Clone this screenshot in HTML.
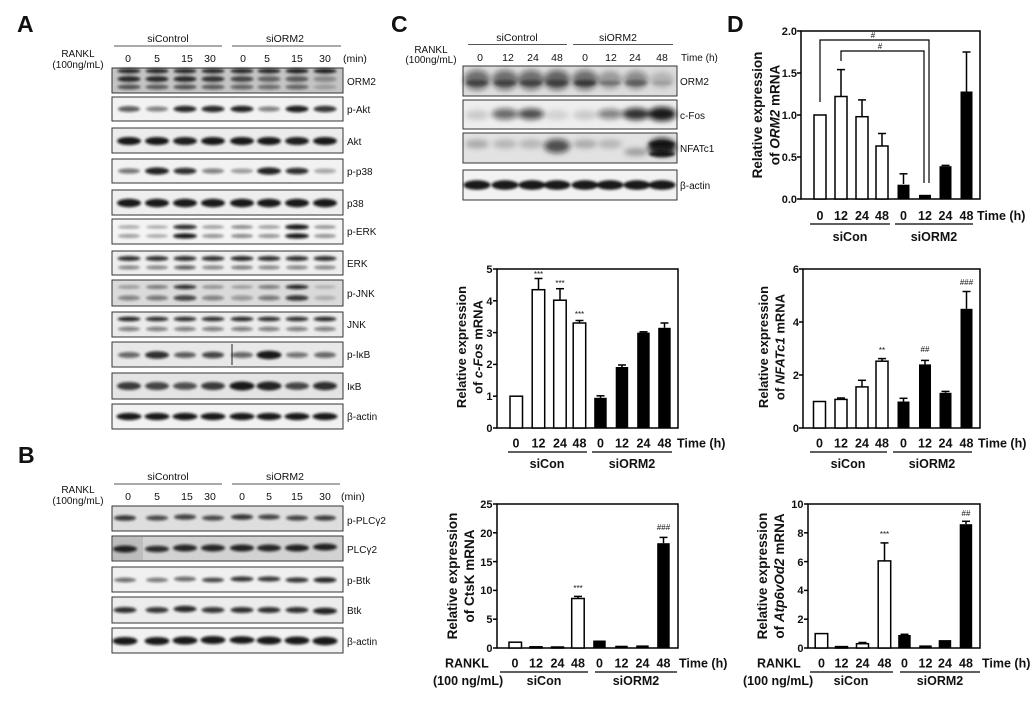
<!DOCTYPE html>
<html><head><meta charset="utf-8"><style>
html,body{margin:0;padding:0;background:#fff;}
svg{display:block;}
text{font-family:"Liberation Sans",Arial,sans-serif;fill:#111;}
.bl{font-size:10px;}
.hd{font-size:10.5px;}
.tk{font-size:11px;font-weight:bold;}
.xl{font-size:12.5px;font-weight:bold;}
.yl{font-size:13.5px;font-weight:bold;}
.sg{font-size:8px;}
</style></head><body>
<svg width="1035" height="701" viewBox="0 0 1035 701" xmlns="http://www.w3.org/2000/svg">
<defs>
<filter id="bl" x="-30%" y="-150%" width="160%" height="400%"><feGaussianBlur stdDeviation="1.2"/></filter>
<filter id="bl3" x="-30%" y="-100%" width="160%" height="300%"><feGaussianBlur stdDeviation="2.6"/></filter>
</defs>

<!-- Panel letters -->
<text x="17" y="32" font-size="23" font-weight="bold">A</text>
<text x="18" y="463" font-size="23" font-weight="bold">B</text>
<text x="391" y="32" font-size="23" font-weight="bold">C</text>
<text x="727" y="32" font-size="23" font-weight="bold">D</text>

<!-- ===== Panel A header ===== -->
<text class="hd" x="168" y="42" text-anchor="middle">siControl</text>
<text class="hd" x="285" y="42" text-anchor="middle">siORM2</text>
<line x1="114" y1="46" x2="222" y2="46" stroke="#555" stroke-width="1"/>
<line x1="232" y1="46" x2="341" y2="46" stroke="#555" stroke-width="1"/>
<text class="bl" x="78" y="57" text-anchor="middle">RANKL</text>
<text class="bl" x="78" y="68" text-anchor="middle">(100ng/mL)</text>
<g class="hd" text-anchor="middle">
<text x="128" y="62">0</text><text x="157" y="62">5</text><text x="187" y="62">15</text><text x="210" y="62">30</text>
<text x="243" y="62">0</text><text x="267" y="62">5</text><text x="297" y="62">15</text><text x="325" y="62">30</text>
</g>
<text class="hd" x="343" y="62">(min)</text>

<!-- Panel A blots -->
<g stroke="#333" stroke-width="1">
<rect x="112" y="68" width="231" height="25" fill="#c4c4c4"/>
<rect x="112" y="97" width="231" height="24" fill="#f2f2f2"/>
<rect x="112" y="128" width="231" height="25" fill="#ececec"/>
<rect x="112" y="159" width="231" height="24" fill="#f2f2f2"/>
<rect x="112" y="190" width="231" height="25" fill="#efefef"/>
<rect x="112" y="219" width="231" height="25" fill="#f4f4f4"/>
<rect x="112" y="251" width="231" height="24" fill="#eeeeee"/>
<rect x="112" y="280" width="231" height="26" fill="#dadada"/>
<rect x="112" y="312" width="231" height="25" fill="#ebebeb"/>
<rect x="112" y="342" width="231" height="25" fill="#e8e8e8"/>
<rect x="112" y="373" width="231" height="26" fill="#e4e4e4"/>
<rect x="112" y="404" width="231" height="25" fill="#f2f2f2"/>
</g>
<g filter="url(#bl)" fill="#111">
<!-- ORM2 -->
<ellipse cx="129" cy="71" rx="11.5" ry="2.5" opacity=".85"/><ellipse cx="157" cy="71" rx="11.5" ry="2.5" opacity=".85"/><ellipse cx="185" cy="71" rx="11.5" ry="2.5" opacity=".85"/><ellipse cx="213" cy="71" rx="11.5" ry="2.5" opacity=".85"/><ellipse cx="242" cy="71" rx="11.5" ry="2.5" opacity=".85"/><ellipse cx="269" cy="71" rx="11.5" ry="2.5" opacity=".85"/><ellipse cx="297" cy="71" rx="11.5" ry="2.5" opacity=".9"/><ellipse cx="325" cy="71" rx="11.5" ry="2.5" opacity=".9"/>
<ellipse cx="129" cy="79" rx="11.5" ry="3" opacity=".85"/><ellipse cx="157" cy="79" rx="11.5" ry="3" opacity=".85"/><ellipse cx="185" cy="79" rx="11.5" ry="3" opacity=".85"/><ellipse cx="213" cy="79" rx="11.5" ry="3" opacity=".8"/><ellipse cx="242" cy="79" rx="11.5" ry="3" opacity=".7"/><ellipse cx="269" cy="79" rx="11.5" ry="3" opacity=".55"/><ellipse cx="297" cy="79" rx="11.5" ry="3" opacity=".6"/><ellipse cx="325" cy="79" rx="11.5" ry="3" opacity=".35"/>
<ellipse cx="129" cy="87" rx="11.5" ry="2.5" opacity=".65"/><ellipse cx="157" cy="87" rx="11.5" ry="2.5" opacity=".6"/><ellipse cx="185" cy="87" rx="11.5" ry="2.5" opacity=".65"/><ellipse cx="213" cy="87" rx="11.5" ry="2.5" opacity=".6"/><ellipse cx="242" cy="87" rx="11.5" ry="2.5" opacity=".55"/><ellipse cx="269" cy="87" rx="11.5" ry="2.5" opacity=".5"/><ellipse cx="297" cy="87" rx="11.5" ry="2.5" opacity=".55"/><ellipse cx="325" cy="87" rx="11.5" ry="2.5" opacity=".2"/>
<!-- p-Akt -->
<ellipse cx="129" cy="109" rx="11" ry="3" opacity=".65"/><ellipse cx="157" cy="109" rx="11" ry="2.6" opacity=".5"/><ellipse cx="185" cy="109" rx="11.5" ry="3.2" opacity=".88"/><ellipse cx="213" cy="109" rx="11.5" ry="3.2" opacity=".88"/><ellipse cx="242" cy="109" rx="11.5" ry="3.2" opacity=".9"/><ellipse cx="269" cy="109" rx="11" ry="2.6" opacity=".5"/><ellipse cx="297" cy="109" rx="11.5" ry="3.4" opacity=".92"/><ellipse cx="325" cy="109" rx="11.5" ry="3.2" opacity=".82"/>
<!-- Akt -->
<ellipse cx="129" cy="141" rx="12" ry="4" opacity=".95"/><ellipse cx="157" cy="141" rx="12" ry="4" opacity=".95"/><ellipse cx="185" cy="141" rx="12" ry="4" opacity=".92"/><ellipse cx="213" cy="141" rx="12" ry="4" opacity=".95"/><ellipse cx="242" cy="141" rx="12" ry="4" opacity=".95"/><ellipse cx="269" cy="141" rx="12" ry="4" opacity=".95"/><ellipse cx="297" cy="141" rx="12" ry="4" opacity=".92"/><ellipse cx="325" cy="141" rx="12" ry="4" opacity=".95"/>
<!-- p-p38 -->
<ellipse cx="129" cy="171" rx="11" ry="2.6" opacity=".55"/><ellipse cx="157" cy="171" rx="12" ry="3.6" opacity=".9"/><ellipse cx="185" cy="171" rx="11.5" ry="3.3" opacity=".85"/><ellipse cx="213" cy="171" rx="11" ry="2.6" opacity=".5"/><ellipse cx="242" cy="171" rx="11" ry="2.4" opacity=".4"/><ellipse cx="269" cy="171" rx="12" ry="3.6" opacity=".9"/><ellipse cx="297" cy="171" rx="11.5" ry="3.3" opacity=".85"/><ellipse cx="325" cy="171" rx="11" ry="2.4" opacity=".35"/>
<!-- p38 -->
<ellipse cx="129" cy="203" rx="12" ry="4.2" opacity=".95"/><ellipse cx="157" cy="203" rx="12" ry="4.2" opacity=".95"/><ellipse cx="185" cy="203" rx="12" ry="4.2" opacity=".95"/><ellipse cx="213" cy="203" rx="12" ry="4.2" opacity=".95"/><ellipse cx="242" cy="203" rx="12" ry="4.2" opacity=".95"/><ellipse cx="269" cy="203" rx="12" ry="4.2" opacity=".95"/><ellipse cx="297" cy="203" rx="12" ry="4.2" opacity=".95"/><ellipse cx="325" cy="203" rx="12" ry="4.2" opacity=".95"/>
<!-- p-ERK -->
<ellipse cx="129" cy="227" rx="11" ry="1.8" opacity=".35"/><ellipse cx="157" cy="227" rx="11" ry="1.8" opacity=".3"/><ellipse cx="185" cy="227" rx="12" ry="2.4" opacity=".85"/><ellipse cx="213" cy="227" rx="11" ry="1.8" opacity=".4"/><ellipse cx="242" cy="227" rx="11" ry="1.8" opacity=".5"/><ellipse cx="269" cy="227" rx="11" ry="1.8" opacity=".4"/><ellipse cx="297" cy="227" rx="12" ry="2.6" opacity=".95"/><ellipse cx="325" cy="227" rx="11" ry="1.8" opacity=".45"/>
<ellipse cx="129" cy="236" rx="11" ry="1.9" opacity=".4"/><ellipse cx="157" cy="236" rx="11" ry="1.9" opacity=".3"/><ellipse cx="185" cy="236" rx="12" ry="2.6" opacity=".95"/><ellipse cx="213" cy="236" rx="11" ry="1.9" opacity=".45"/><ellipse cx="242" cy="236" rx="11" ry="1.9" opacity=".5"/><ellipse cx="269" cy="236" rx="11" ry="1.9" opacity=".45"/><ellipse cx="297" cy="236" rx="12" ry="2.6" opacity=".95"/><ellipse cx="325" cy="236" rx="11" ry="1.9" opacity=".45"/>
<!-- ERK -->
<ellipse cx="129" cy="258.5" rx="11.5" ry="2.5" opacity=".85"/><ellipse cx="157" cy="258.5" rx="11.5" ry="2.5" opacity=".85"/><ellipse cx="185" cy="258.5" rx="11.5" ry="2.5" opacity=".85"/><ellipse cx="213" cy="258.5" rx="11.5" ry="2.5" opacity=".85"/><ellipse cx="242" cy="258.5" rx="11.5" ry="2.5" opacity=".88"/><ellipse cx="269" cy="258.5" rx="11.5" ry="2.5" opacity=".85"/><ellipse cx="297" cy="258.5" rx="11.5" ry="2.5" opacity=".85"/><ellipse cx="325" cy="258.5" rx="11.5" ry="2.5" opacity=".85"/>
<ellipse cx="129" cy="267.5" rx="11" ry="1.9" opacity=".5"/><ellipse cx="157" cy="267.5" rx="11" ry="1.9" opacity=".5"/><ellipse cx="185" cy="267.5" rx="11" ry="2.1" opacity=".65"/><ellipse cx="213" cy="267.5" rx="11" ry="1.9" opacity=".5"/><ellipse cx="242" cy="267.5" rx="11" ry="1.9" opacity=".55"/><ellipse cx="269" cy="267.5" rx="11" ry="1.9" opacity=".5"/><ellipse cx="297" cy="267.5" rx="11" ry="1.9" opacity=".5"/><ellipse cx="325" cy="267.5" rx="11" ry="1.9" opacity=".5"/>
<!-- p-JNK -->
<ellipse cx="129" cy="287" rx="11" ry="1.8" opacity=".35"/><ellipse cx="157" cy="287" rx="11" ry="1.9" opacity=".5"/><ellipse cx="185" cy="287" rx="11.5" ry="2.2" opacity=".85"/><ellipse cx="213" cy="287" rx="11" ry="1.8" opacity=".4"/><ellipse cx="242" cy="287" rx="11" ry="1.8" opacity=".3"/><ellipse cx="269" cy="287" rx="11" ry="1.9" opacity=".5"/><ellipse cx="297" cy="287" rx="11.5" ry="2.2" opacity=".9"/><ellipse cx="325" cy="287" rx="11" ry="1.8" opacity=".2"/>
<ellipse cx="129" cy="298" rx="11" ry="2.5" opacity=".45"/><ellipse cx="157" cy="298" rx="11" ry="2.5" opacity=".5"/><ellipse cx="185" cy="298" rx="11.5" ry="2.8" opacity=".75"/><ellipse cx="213" cy="298" rx="11" ry="2.5" opacity=".45"/><ellipse cx="242" cy="298" rx="11" ry="2.5" opacity=".35"/><ellipse cx="269" cy="298" rx="11" ry="2.5" opacity=".5"/><ellipse cx="297" cy="298" rx="11.5" ry="2.8" opacity=".8"/><ellipse cx="325" cy="298" rx="11" ry="2.5" opacity=".2"/>
<!-- JNK -->
<ellipse cx="129" cy="319" rx="11.5" ry="2.3" opacity=".9"/><ellipse cx="157" cy="319" rx="11.5" ry="2.3" opacity=".85"/><ellipse cx="185" cy="319" rx="11.5" ry="2.3" opacity=".85"/><ellipse cx="213" cy="319" rx="11.5" ry="2.3" opacity=".85"/><ellipse cx="242" cy="319" rx="11.5" ry="2.3" opacity=".88"/><ellipse cx="269" cy="319" rx="11.5" ry="2.3" opacity=".85"/><ellipse cx="297" cy="319" rx="11.5" ry="2.3" opacity=".85"/><ellipse cx="325" cy="319" rx="11.5" ry="2.3" opacity=".88"/>
<ellipse cx="129" cy="329" rx="11" ry="2.2" opacity=".5"/><ellipse cx="157" cy="329" rx="11" ry="2.2" opacity=".5"/><ellipse cx="185" cy="329" rx="11" ry="2.2" opacity=".5"/><ellipse cx="213" cy="329" rx="11" ry="2.2" opacity=".5"/><ellipse cx="242" cy="329" rx="11" ry="2.2" opacity=".5"/><ellipse cx="269" cy="329" rx="11" ry="2.2" opacity=".5"/><ellipse cx="297" cy="329" rx="11" ry="2.2" opacity=".5"/><ellipse cx="325" cy="329" rx="11" ry="2.2" opacity=".5"/>
<!-- p-IkB -->
<ellipse cx="129" cy="355" rx="11" ry="3" opacity=".6"/><ellipse cx="157" cy="355" rx="12" ry="3.8" opacity=".85"/><ellipse cx="185" cy="355" rx="11" ry="3" opacity=".65"/><ellipse cx="213" cy="355" rx="11" ry="3.3" opacity=".75"/><ellipse cx="242" cy="355" rx="11" ry="3" opacity=".6"/><ellipse cx="269" cy="355" rx="12.5" ry="4.2" opacity=".95"/><ellipse cx="297" cy="355" rx="11" ry="2.8" opacity=".55"/><ellipse cx="325" cy="355" rx="11" ry="3" opacity=".6"/>
<!-- IkB -->
<ellipse cx="129" cy="386" rx="12" ry="4" opacity=".8"/><ellipse cx="157" cy="386" rx="12" ry="4" opacity=".75"/><ellipse cx="185" cy="386" rx="12" ry="3.8" opacity=".7"/><ellipse cx="213" cy="386" rx="12" ry="4" opacity=".8"/><ellipse cx="242" cy="386" rx="12.5" ry="4.5" opacity=".95"/><ellipse cx="269" cy="386" rx="12.5" ry="4.5" opacity=".9"/><ellipse cx="297" cy="386" rx="12" ry="3.8" opacity=".75"/><ellipse cx="325" cy="386" rx="12" ry="4.2" opacity=".85"/>
<!-- b-actin -->
<ellipse cx="129" cy="416.5" rx="12.5" ry="3.6" opacity=".95"/><ellipse cx="157" cy="416.5" rx="12.5" ry="3.6" opacity=".95"/><ellipse cx="185" cy="416.5" rx="12.5" ry="3.6" opacity=".95"/><ellipse cx="213" cy="416.5" rx="12.5" ry="3.6" opacity=".95"/><ellipse cx="242" cy="416.5" rx="12.5" ry="3.6" opacity=".95"/><ellipse cx="269" cy="416.5" rx="12.5" ry="3.6" opacity=".95"/><ellipse cx="297" cy="416.5" rx="12.5" ry="3.6" opacity=".95"/><ellipse cx="325" cy="416.5" rx="12.5" ry="3.6" opacity=".95"/>
</g>
<line x1="232" y1="344" x2="232" y2="365" stroke="#000" stroke-width="1.2" opacity=".7"/>
<g class="bl">
<text x="347" y="85">ORM2</text>
<text x="347" y="113">p-Akt</text>
<text x="347" y="145">Akt</text>
<text x="347" y="175">p-p38</text>
<text x="347" y="207">p38</text>
<text x="347" y="235">p-ERK</text>
<text x="347" y="267">ERK</text>
<text x="347" y="297">p-JNK</text>
<text x="347" y="328">JNK</text>
<text x="347" y="358">p-IκB</text>
<text x="347" y="390">IκB</text>
<text x="347" y="420">β-actin</text>
</g>

<!-- ===== Panel B ===== -->
<text class="hd" x="168" y="480" text-anchor="middle">siControl</text>
<text class="hd" x="285" y="480" text-anchor="middle">siORM2</text>
<line x1="114" y1="484" x2="222" y2="484" stroke="#555" stroke-width="1"/>
<line x1="232" y1="484" x2="340" y2="484" stroke="#555" stroke-width="1"/>
<text class="bl" x="78" y="493" text-anchor="middle">RANKL</text>
<text class="bl" x="78" y="504" text-anchor="middle">(100ng/mL)</text>
<g class="hd" text-anchor="middle">
<text x="128" y="500">0</text><text x="157" y="500">5</text><text x="187" y="500">15</text><text x="210" y="500">30</text>
<text x="242" y="500">0</text><text x="269" y="500">5</text><text x="297" y="500">15</text><text x="325" y="500">30</text>
</g>
<text class="hd" x="341" y="500">(min)</text>
<g stroke="#333" stroke-width="1">
<rect x="112" y="506" width="231" height="25" fill="#dedede"/>
<rect x="112" y="536" width="231" height="25" fill="#d2d2d2"/>
<rect x="112" y="567" width="231" height="25" fill="#f0f0f0"/>
<rect x="112" y="597" width="231" height="26" fill="#ececec"/>
<rect x="112" y="628" width="231" height="25" fill="#f2f2f2"/>
</g>
<rect x="113" y="537" width="30" height="23" fill="#bdbdbd"/>
<g filter="url(#bl)" fill="#111">
<ellipse cx="125" cy="518" rx="11" ry="2.8" opacity=".8"/><ellipse cx="157" cy="518" rx="11" ry="2.6" opacity=".72"/><ellipse cx="185" cy="517" rx="11" ry="2.8" opacity=".75"/><ellipse cx="213" cy="518" rx="11" ry="2.6" opacity=".72"/><ellipse cx="242" cy="517" rx="11" ry="2.8" opacity=".82"/><ellipse cx="269" cy="517" rx="11" ry="2.6" opacity=".75"/><ellipse cx="297" cy="518" rx="11" ry="2.6" opacity=".75"/><ellipse cx="325" cy="518" rx="11" ry="2.6" opacity=".78"/>
<ellipse cx="125" cy="549" rx="12" ry="3.5" opacity=".9"/><ellipse cx="157" cy="549" rx="12" ry="3.3" opacity=".85"/><ellipse cx="185" cy="548" rx="12" ry="3.5" opacity=".88"/><ellipse cx="213" cy="548" rx="12" ry="3.5" opacity=".88"/><ellipse cx="242" cy="548" rx="12" ry="3.5" opacity=".9"/><ellipse cx="269" cy="548" rx="12" ry="3.5" opacity=".88"/><ellipse cx="297" cy="548" rx="12" ry="3.5" opacity=".9"/><ellipse cx="325" cy="547" rx="12" ry="3.5" opacity=".9"/>
<ellipse cx="125" cy="580" rx="11" ry="2.2" opacity=".6"/><ellipse cx="157" cy="580" rx="11" ry="2.2" opacity=".55"/><ellipse cx="185" cy="579" rx="11" ry="2.4" opacity=".6"/><ellipse cx="213" cy="580" rx="11" ry="2.4" opacity=".75"/><ellipse cx="242" cy="579" rx="11.5" ry="2.6" opacity=".82"/><ellipse cx="269" cy="579" rx="11.5" ry="2.6" opacity=".8"/><ellipse cx="297" cy="580" rx="11.5" ry="2.6" opacity=".82"/><ellipse cx="325" cy="580" rx="11.5" ry="2.8" opacity=".88"/>
<ellipse cx="125" cy="610" rx="11.5" ry="3" opacity=".85"/><ellipse cx="157" cy="610" rx="11.5" ry="3" opacity=".82"/><ellipse cx="185" cy="609" rx="11.5" ry="3.2" opacity=".88"/><ellipse cx="213" cy="610" rx="11.5" ry="3" opacity=".82"/><ellipse cx="242" cy="610" rx="11.5" ry="3" opacity=".85"/><ellipse cx="269" cy="610" rx="11.5" ry="3" opacity=".85"/><ellipse cx="297" cy="610" rx="11.5" ry="3" opacity=".85"/><ellipse cx="325" cy="611" rx="12" ry="3.4" opacity=".9"/>
<ellipse cx="125" cy="641" rx="12.5" ry="4" opacity=".95"/><ellipse cx="157" cy="641" rx="12.5" ry="4" opacity=".95"/><ellipse cx="185" cy="640.5" rx="12.5" ry="4" opacity=".95"/><ellipse cx="213" cy="640" rx="12.5" ry="4" opacity=".95"/><ellipse cx="242" cy="640" rx="12.5" ry="3.8" opacity=".95"/><ellipse cx="269" cy="640.5" rx="12.5" ry="4" opacity=".95"/><ellipse cx="297" cy="640.5" rx="12.5" ry="4" opacity=".95"/><ellipse cx="325" cy="641" rx="12.5" ry="4.2" opacity=".95"/>
</g>
<g class="bl">
<text x="347" y="524">p-PLCγ2</text>
<text x="347" y="553">PLCγ2</text>
<text x="347" y="584">p-Btk</text>
<text x="347" y="614">Btk</text>
<text x="347" y="645">β-actin</text>
</g>

<!-- ===== Panel C blots ===== -->
<text class="hd" x="517" y="41" text-anchor="middle">siControl</text>
<text class="hd" x="618" y="41" text-anchor="middle">siORM2</text>
<line x1="468" y1="44.5" x2="567" y2="44.5" stroke="#555" stroke-width="1"/>
<line x1="573" y1="44.5" x2="673" y2="44.5" stroke="#555" stroke-width="1"/>
<text class="bl" x="431" y="53" text-anchor="middle">RANKL</text>
<text class="bl" x="431" y="63" text-anchor="middle">(100ng/mL)</text>
<g class="hd" text-anchor="middle">
<text x="480" y="61">0</text><text x="508" y="61">12</text><text x="533" y="61">24</text><text x="557" y="61">48</text>
<text x="585" y="61">0</text><text x="611" y="61">12</text><text x="635" y="61">24</text><text x="662" y="61">48</text>
</g>
<text class="bl" x="681" y="61">Time (h)</text>
<g stroke="#333" stroke-width="1">
<rect x="463" y="66" width="214" height="30" fill="#dcdcdc"/>
<rect x="463" y="100" width="214" height="29" fill="#eeeeee"/>
<rect x="463" y="133" width="214" height="30" fill="#e2e2e2"/>
<rect x="463" y="170" width="214" height="30" fill="#f2f2f2"/>
</g>
<g filter="url(#bl3)" fill="#111">
<ellipse cx="477" cy="80" rx="13" ry="10" opacity=".55"/><ellipse cx="505" cy="80" rx="13" ry="10" opacity=".55"/><ellipse cx="531" cy="80" rx="13" ry="10" opacity=".55"/><ellipse cx="557" cy="80" rx="13" ry="10" opacity=".6"/><ellipse cx="585" cy="80" rx="13" ry="10" opacity=".55"/><ellipse cx="610" cy="80" rx="12" ry="9" opacity=".3"/><ellipse cx="636" cy="80" rx="12" ry="9" opacity=".42"/><ellipse cx="662" cy="80" rx="12" ry="8" opacity=".18"/>
<ellipse cx="477" cy="115" rx="12" ry="5" opacity=".15"/><ellipse cx="505" cy="114" rx="13" ry="5.5" opacity=".6"/><ellipse cx="531" cy="114" rx="13" ry="5.5" opacity=".72"/><ellipse cx="557" cy="115" rx="12" ry="5" opacity=".12"/><ellipse cx="585" cy="115" rx="12" ry="5" opacity=".15"/><ellipse cx="610" cy="114" rx="12.5" ry="5" opacity=".5"/><ellipse cx="636" cy="114" rx="13.5" ry="6" opacity=".85"/><ellipse cx="662" cy="114" rx="14" ry="7" opacity=".95"/>
<ellipse cx="477" cy="144" rx="12" ry="4.5" opacity=".25"/><ellipse cx="505" cy="144" rx="12" ry="4.5" opacity=".2"/><ellipse cx="531" cy="144" rx="12" ry="4.5" opacity=".2"/><ellipse cx="557" cy="146" rx="13" ry="7" opacity=".7"/><ellipse cx="585" cy="144" rx="12" ry="4.5" opacity=".25"/><ellipse cx="610" cy="144" rx="12" ry="4.5" opacity=".2"/><ellipse cx="636" cy="152" rx="12" ry="4" opacity=".3"/><ellipse cx="662" cy="147" rx="14" ry="9" opacity=".9"/>
</g>
<g filter="url(#bl)" fill="#111">
<ellipse cx="477" cy="83" rx="11" ry="3" opacity=".5"/><ellipse cx="505" cy="83" rx="11" ry="3" opacity=".5"/><ellipse cx="531" cy="83" rx="11" ry="3" opacity=".5"/><ellipse cx="557" cy="83" rx="11" ry="3" opacity=".5"/><ellipse cx="585" cy="83" rx="11" ry="3" opacity=".6"/><ellipse cx="610" cy="83" rx="11" ry="2.5" opacity=".25"/><ellipse cx="636" cy="83" rx="11" ry="3" opacity=".4"/><ellipse cx="662" cy="83" rx="10" ry="2.5" opacity=".12"/>
<ellipse cx="662" cy="144" rx="13" ry="2.8" opacity=".9"/><ellipse cx="662" cy="154" rx="13" ry="2.8" opacity=".9"/>
<ellipse cx="477" cy="185" rx="13.5" ry="4.8" opacity=".95"/><ellipse cx="505" cy="185" rx="13.5" ry="4.8" opacity=".95"/><ellipse cx="532" cy="185" rx="13.5" ry="4.8" opacity=".95"/><ellipse cx="557" cy="185" rx="13.5" ry="4.8" opacity=".95"/><ellipse cx="585" cy="185" rx="13.5" ry="4.8" opacity=".95"/><ellipse cx="610" cy="185" rx="13.5" ry="4.8" opacity=".95"/><ellipse cx="637" cy="185" rx="13.5" ry="4.8" opacity=".95"/><ellipse cx="662" cy="185" rx="13.5" ry="4.8" opacity=".95"/>
</g>
<g class="bl">
<text x="680" y="85">ORM2</text>
<text x="680" y="119">c-Fos</text>
<text x="680" y="152">NFATc1</text>
<text x="680" y="189">β-actin</text>
</g>

<!-- ===== Panel D top: ORM2 mRNA ===== -->
<g stroke="#000" stroke-width="1.5" fill="none">
<rect x="801" y="31" width="179" height="168"/>
<line x1="797" y1="199" x2="801" y2="199"/><line x1="797" y1="157" x2="801" y2="157"/><line x1="797" y1="115" x2="801" y2="115"/><line x1="797" y1="73" x2="801" y2="73"/><line x1="797" y1="31" x2="801" y2="31"/>
</g>
<g class="tk" text-anchor="end">
<text x="797" y="203">0.0</text><text x="797" y="161">0.5</text><text x="797" y="119">1.0</text><text x="797" y="77">1.5</text><text x="797" y="35">2.0</text>
</g>
<g stroke="#000" stroke-width="1.5">
<line x1="841" y1="96.5" x2="841" y2="69.6"/><line x1="837" y1="69.6" x2="845" y2="69.6"/>
<line x1="862" y1="116.7" x2="862" y2="99.9"/><line x1="858" y1="99.9" x2="866" y2="99.9"/>
<line x1="882" y1="146" x2="882" y2="133.5"/><line x1="878" y1="133.5" x2="886" y2="133.5"/>
<line x1="903.5" y1="184" x2="903.5" y2="173.8"/><line x1="899.5" y1="173.8" x2="907.5" y2="173.8"/>
<line x1="945.5" y1="166" x2="945.5" y2="165.4"/><line x1="941.5" y1="165.4" x2="949.5" y2="165.4"/>
<line x1="966.5" y1="91.5" x2="966.5" y2="52"/><line x1="962.5" y1="52" x2="970.5" y2="52"/>
</g>
<g stroke="#000" stroke-width="1.5" fill="#fff">
<rect x="814" y="115" width="12" height="84"/>
<rect x="835" y="96.5" width="12" height="102.5"/>
<rect x="856" y="116.7" width="12" height="82.3"/>
<rect x="876" y="146" width="12" height="53"/>
</g>
<g fill="#000">
<rect x="897.5" y="184.7" width="12" height="14.3"/>
<rect x="919" y="194.8" width="12" height="4.2"/>
<rect x="939.5" y="166.2" width="12" height="32.8"/>
<rect x="960.5" y="91.5" width="12" height="107.5"/>
</g>
<g stroke="#000" stroke-width="1.2" fill="none">
<polyline points="820,102 820,40 929,40 929,183"/>
<polyline points="841,61 841,51 924,51 924,183"/>
</g>
<text class="sg" x="873" y="38" text-anchor="middle">#</text>
<text class="sg" x="880" y="49" text-anchor="middle">#</text>
<g class="xl" text-anchor="middle">
<text x="820" y="220">0</text><text x="841" y="220">12</text><text x="862" y="220">24</text><text x="882" y="220">48</text>
<text x="903.5" y="220">0</text><text x="925" y="220">12</text><text x="945.5" y="220">24</text><text x="966.5" y="220">48</text>
</g>
<text class="xl" x="977" y="220">Time (h)</text>
<line x1="810" y1="224" x2="890" y2="224" stroke="#000" stroke-width="1.2"/>
<line x1="895" y1="224" x2="973" y2="224" stroke="#000" stroke-width="1.2"/>
<text class="xl" x="850" y="241" text-anchor="middle">siCon</text>
<text class="xl" x="934" y="241" text-anchor="middle">siORM2</text>
<text class="yl" transform="translate(762,115) rotate(-90)" text-anchor="middle">Relative expression</text>
<text class="yl" transform="translate(779.5,115) rotate(-90)" text-anchor="middle">of <tspan font-style="italic">ORM2</tspan> mRNA</text>

<!-- ===== c-Fos chart ===== -->
<g stroke="#000" stroke-width="1.5" fill="none">
<rect x="497" y="269" width="181" height="159"/>
<line x1="493" y1="428" x2="497" y2="428"/><line x1="493" y1="396.2" x2="497" y2="396.2"/><line x1="493" y1="364.4" x2="497" y2="364.4"/><line x1="493" y1="332.6" x2="497" y2="332.6"/><line x1="493" y1="300.8" x2="497" y2="300.8"/><line x1="493" y1="269" x2="497" y2="269"/>
</g>
<g class="tk" text-anchor="end">
<text x="492.5" y="432">0</text><text x="492.5" y="400">1</text><text x="492.5" y="368">2</text><text x="492.5" y="337">3</text><text x="492.5" y="305">4</text><text x="492.5" y="273">5</text>
</g>
<g stroke="#000" stroke-width="1.5">
<line x1="538.5" y1="289.7" x2="538.5" y2="278.5"/><line x1="534.5" y1="278.5" x2="542.5" y2="278.5"/>
<line x1="560" y1="300.2" x2="560" y2="288.7"/><line x1="556" y1="288.7" x2="564" y2="288.7"/>
<line x1="579.5" y1="323" x2="579.5" y2="320.5"/><line x1="575.5" y1="320.5" x2="583.5" y2="320.5"/>
<line x1="600.5" y1="397.8" x2="600.5" y2="395.8"/><line x1="596.5" y1="395.8" x2="604.5" y2="395.8"/>
<line x1="622" y1="367" x2="622" y2="365"/><line x1="618" y1="365" x2="626" y2="365"/>
<line x1="643.5" y1="332.6" x2="643.5" y2="331.8"/><line x1="639.5" y1="331.8" x2="647.5" y2="331.8"/>
<line x1="664.5" y1="327.8" x2="664.5" y2="323"/><line x1="660.5" y1="323" x2="668.5" y2="323"/>
</g>
<g stroke="#000" stroke-width="1.5" fill="#fff">
<rect x="510" y="396.2" width="12.5" height="31.8"/>
<rect x="532.2" y="289.7" width="12.5" height="138.3"/>
<rect x="553.7" y="300.2" width="12.5" height="127.8"/>
<rect x="573.2" y="323" width="12.5" height="105"/>
</g>
<g fill="#000">
<rect x="594.2" y="397.8" width="12.5" height="30.2"/>
<rect x="615.7" y="367" width="12.5" height="61"/>
<rect x="637.2" y="332.6" width="12.5" height="95.4"/>
<rect x="658.2" y="327.8" width="12.5" height="100.2"/>
</g>
<g class="sg" text-anchor="middle">
<text x="538.5" y="277">***</text><text x="560" y="286">***</text><text x="579.5" y="317">***</text>
</g>
<g class="xl" text-anchor="middle">
<text x="516" y="447.5">0</text><text x="538.5" y="447.5">12</text><text x="560" y="447.5">24</text><text x="579.5" y="447.5">48</text>
<text x="600.5" y="447.5">0</text><text x="622" y="447.5">12</text><text x="643.5" y="447.5">24</text><text x="664.5" y="447.5">48</text>
</g>
<text class="xl" x="677" y="447.5">Time (h)</text>
<line x1="508" y1="452" x2="587" y2="452" stroke="#000" stroke-width="1.2"/>
<line x1="592" y1="452" x2="672" y2="452" stroke="#000" stroke-width="1.2"/>
<text class="xl" x="547" y="468" text-anchor="middle">siCon</text>
<text class="xl" x="632" y="468" text-anchor="middle">siORM2</text>
<text class="yl" transform="translate(466,347) rotate(-90)" text-anchor="middle" style="font-size:13px">Relative expression</text>
<text class="yl" transform="translate(482.5,347) rotate(-90)" text-anchor="middle" style="font-size:13px">of <tspan font-style="italic">c-Fos</tspan> mRNA</text>

<!-- ===== NFATc1 chart ===== -->
<g stroke="#000" stroke-width="1.5" fill="none">
<rect x="803" y="269" width="177" height="159"/>
<line x1="799" y1="428" x2="803" y2="428"/><line x1="799" y1="375" x2="803" y2="375"/><line x1="799" y1="322" x2="803" y2="322"/><line x1="799" y1="269" x2="803" y2="269"/>
</g>
<g class="tk" text-anchor="end">
<text x="799" y="432">0</text><text x="799" y="379">2</text><text x="799" y="326">4</text><text x="799" y="273">6</text>
</g>
<g stroke="#000" stroke-width="1.5">
<line x1="841" y1="399.4" x2="841" y2="398"/><line x1="837" y1="398" x2="845" y2="398"/>
<line x1="862" y1="386.9" x2="862" y2="380.3"/><line x1="858" y1="380.3" x2="866" y2="380.3"/>
<line x1="882" y1="361.2" x2="882" y2="358.6"/><line x1="878" y1="358.6" x2="886" y2="358.6"/>
<line x1="903.5" y1="401.5" x2="903.5" y2="398.3"/><line x1="899.5" y1="398.3" x2="907.5" y2="398.3"/>
<line x1="925" y1="364.4" x2="925" y2="360.4"/><line x1="921" y1="360.4" x2="929" y2="360.4"/>
<line x1="945.5" y1="392.8" x2="945.5" y2="391.4"/><line x1="941.5" y1="391.4" x2="949.5" y2="391.4"/>
<line x1="966.5" y1="308.8" x2="966.5" y2="291.5"/><line x1="962.5" y1="291.5" x2="970.5" y2="291.5"/>
</g>
<g stroke="#000" stroke-width="1.5" fill="#fff">
<rect x="813.5" y="401.5" width="12" height="26.5"/>
<rect x="835" y="399.4" width="12" height="28.6"/>
<rect x="856" y="386.9" width="12" height="41.1"/>
<rect x="876" y="361.2" width="12" height="66.8"/>
</g>
<g fill="#000">
<rect x="897.5" y="401.5" width="12" height="26.5"/>
<rect x="919" y="364.4" width="12" height="63.6"/>
<rect x="939.5" y="392.8" width="12" height="35.2"/>
<rect x="960.5" y="308.8" width="12" height="119.2"/>
</g>
<g class="sg" text-anchor="middle">
<text x="882" y="353">**</text><text x="925" y="352">##</text><text x="966.5" y="285">###</text>
</g>
<g class="xl" text-anchor="middle">
<text x="819.5" y="447.5">0</text><text x="841" y="447.5">12</text><text x="862" y="447.5">24</text><text x="882" y="447.5">48</text>
<text x="903.5" y="447.5">0</text><text x="925" y="447.5">12</text><text x="945.5" y="447.5">24</text><text x="966.5" y="447.5">48</text>
</g>
<text class="xl" x="978" y="447.5">Time (h)</text>
<line x1="810" y1="452" x2="887" y2="452" stroke="#000" stroke-width="1.2"/>
<line x1="893" y1="452" x2="972" y2="452" stroke="#000" stroke-width="1.2"/>
<text class="xl" x="848" y="468" text-anchor="middle">siCon</text>
<text class="xl" x="932" y="468" text-anchor="middle">siORM2</text>
<text class="yl" transform="translate(768,347) rotate(-90)" text-anchor="middle" style="font-size:13px">Relative expression</text>
<text class="yl" transform="translate(784.5,347) rotate(-90)" text-anchor="middle" style="font-size:13px">of <tspan font-style="italic">NFATc1</tspan> mRNA</text>

<!-- ===== CtsK chart ===== -->
<g stroke="#000" stroke-width="1.5" fill="none">
<rect x="497" y="504" width="181" height="144"/>
<line x1="493" y1="648" x2="497" y2="648"/><line x1="493" y1="619.2" x2="497" y2="619.2"/><line x1="493" y1="590.4" x2="497" y2="590.4"/><line x1="493" y1="561.6" x2="497" y2="561.6"/><line x1="493" y1="532.8" x2="497" y2="532.8"/><line x1="493" y1="504" x2="497" y2="504"/>
</g>
<g class="tk" text-anchor="end">
<text x="492.5" y="652">0</text><text x="492.5" y="623">5</text><text x="492.5" y="594">10</text><text x="492.5" y="566">15</text><text x="492.5" y="537">20</text><text x="492.5" y="508">25</text>
</g>
<g stroke="#000" stroke-width="1.5">
<line x1="578" y1="598.5" x2="578" y2="596.4"/><line x1="574" y1="596.4" x2="582" y2="596.4"/>
<line x1="663.5" y1="543.2" x2="663.5" y2="537.4"/><line x1="659.5" y1="537.4" x2="667.5" y2="537.4"/>
</g>
<g stroke="#000" stroke-width="1.5" fill="#fff">
<rect x="509" y="642.2" width="12.5" height="5.8"/>
<rect x="530" y="646.8" width="12" height="1.2"/>
<rect x="551.5" y="647" width="12" height="1"/>
<rect x="571.7" y="598.5" width="12.5" height="49.5"/>
</g>
<g fill="#000">
<rect x="593.2" y="640.5" width="12.5" height="7.5"/>
<rect x="615.2" y="645.7" width="12.5" height="2.3"/>
<rect x="636.2" y="645.4" width="12.5" height="2.6"/>
<rect x="657.2" y="543.2" width="12.5" height="104.8"/>
</g>
<g class="sg" text-anchor="middle">
<text x="578" y="591">***</text><text x="663.5" y="530">###</text>
</g>
<g class="xl" text-anchor="middle">
<text x="515" y="667.5">0</text><text x="536" y="667.5">12</text><text x="557.5" y="667.5">24</text><text x="578" y="667.5">48</text>
<text x="599.5" y="667.5">0</text><text x="621.5" y="667.5">12</text><text x="642.5" y="667.5">24</text><text x="663.5" y="667.5">48</text>
</g>
<text class="xl" x="445" y="667.5">RANKL</text>
<text class="xl" x="433" y="685">(100 ng/mL)</text>
<text class="xl" x="679" y="667.5">Time (h)</text>
<line x1="500" y1="672" x2="588" y2="672" stroke="#000" stroke-width="1.2"/>
<line x1="595" y1="672" x2="677" y2="672" stroke="#000" stroke-width="1.2"/>
<text class="xl" x="544" y="685" text-anchor="middle">siCon</text>
<text class="xl" x="636" y="685" text-anchor="middle">siORM2</text>
<text class="yl" transform="translate(457,576) rotate(-90)" text-anchor="middle">Relative expression</text>
<text class="yl" transform="translate(474,576) rotate(-90)" text-anchor="middle">of CtsK mRNA</text>

<!-- ===== Atp6v0d2 chart ===== -->
<g stroke="#000" stroke-width="1.5" fill="none">
<rect x="808" y="504" width="172" height="144"/>
<line x1="804" y1="648" x2="808" y2="648"/><line x1="804" y1="619.2" x2="808" y2="619.2"/><line x1="804" y1="590.4" x2="808" y2="590.4"/><line x1="804" y1="561.6" x2="808" y2="561.6"/><line x1="804" y1="532.8" x2="808" y2="532.8"/><line x1="804" y1="504" x2="808" y2="504"/>
</g>
<g class="tk" text-anchor="end">
<text x="803.5" y="652">0</text><text x="803.5" y="623">2</text><text x="803.5" y="594">4</text><text x="803.5" y="566">6</text><text x="803.5" y="537">8</text><text x="803.5" y="508">10</text>
</g>
<g stroke="#000" stroke-width="1.5">
<line x1="862.5" y1="643.7" x2="862.5" y2="642.5"/><line x1="858.5" y1="642.5" x2="866.5" y2="642.5"/>
<line x1="884.5" y1="560.9" x2="884.5" y2="542.9"/><line x1="880.5" y1="542.9" x2="888.5" y2="542.9"/>
<line x1="904.5" y1="635" x2="904.5" y2="634.3"/><line x1="900.5" y1="634.3" x2="908.5" y2="634.3"/>
<line x1="966" y1="524.2" x2="966" y2="521.3"/><line x1="962" y1="521.3" x2="970" y2="521.3"/>
</g>
<g stroke="#000" stroke-width="1.5" fill="#fff">
<rect x="815.2" y="633.6" width="12.5" height="14.4"/>
<rect x="835.5" y="646.6" width="12" height="1.4"/>
<rect x="856.5" y="643.7" width="12" height="4.3"/>
<rect x="878.2" y="560.9" width="12.5" height="87.1"/>
</g>
<g fill="#000">
<rect x="898.2" y="635" width="12.5" height="13"/>
<rect x="919.2" y="645.4" width="12.5" height="2.6"/>
<rect x="938.7" y="640.1" width="12.5" height="7.9"/>
<rect x="959.7" y="524.2" width="12.5" height="123.8"/>
</g>
<g class="sg" text-anchor="middle">
<text x="884.5" y="537">***</text><text x="966" y="516">##</text>
</g>
<g class="xl" text-anchor="middle">
<text x="821.5" y="667.5">0</text><text x="841.5" y="667.5">12</text><text x="862.5" y="667.5">24</text><text x="884.5" y="667.5">48</text>
<text x="904.5" y="667.5">0</text><text x="925.5" y="667.5">12</text><text x="945" y="667.5">24</text><text x="966" y="667.5">48</text>
</g>
<text class="xl" x="757" y="667.5">RANKL</text>
<text class="xl" x="743" y="685">(100 ng/mL)</text>
<text class="xl" x="982" y="667.5">Time (h)</text>
<line x1="810" y1="672" x2="893" y2="672" stroke="#000" stroke-width="1.2"/>
<line x1="900" y1="672" x2="980" y2="672" stroke="#000" stroke-width="1.2"/>
<text class="xl" x="851" y="685" text-anchor="middle">siCon</text>
<text class="xl" x="940" y="685" text-anchor="middle">siORM2</text>
<text class="yl" transform="translate(767,576) rotate(-90)" text-anchor="middle">Relative expression</text>
<text class="yl" transform="translate(784,576) rotate(-90)" text-anchor="middle">of <tspan font-style="italic">Atp6vOd2</tspan> mRNA</text>
</svg>
</body></html>
